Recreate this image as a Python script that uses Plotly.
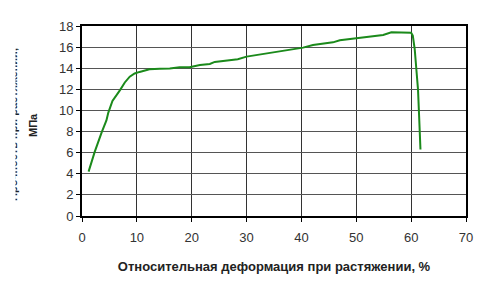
import plotly.graph_objects as go

strain = [1.2, 2.3, 3.6, 4.45, 4.8, 5.55, 6.9, 7.8, 8.7, 9.6, 10.5, 12.3, 14.2, 16.0,
          17.8, 19.6, 21.5, 23.3, 24.2, 26.3, 28.4, 30.0, 32.4, 33.6, 35.4, 40.3, 42.1,
          45.75, 47.0, 50.6, 54.9, 56.4, 60.0, 60.3, 60.65, 60.95, 61.25, 61.45, 61.7]
stress = [4.2, 6.05, 7.95, 9.05, 9.8, 10.9, 11.9, 12.65, 13.2, 13.5, 13.65, 13.9, 13.95, 13.98,
          14.1, 14.1, 14.3, 14.4, 14.6, 14.75, 14.85, 15.1, 15.3, 15.4, 15.6, 15.95, 16.2,
          16.45, 16.65, 16.9, 17.15, 17.4, 17.35, 17.1, 15.8, 13.9, 12.0, 9.5, 6.3]

x_ticks = [0, 10, 20, 30, 40, 50, 60, 70]
y_ticks = [0, 2, 4, 6, 8, 10, 12, 14, 16, 18]

x_title = "Относительная деформация при растяжении, %"
y_title_1 = "Прочность при растяжении,"
y_title_2 = "МПа"

font_family = "Liberation Sans, Arial, sans-serif"

fig = go.Figure()
fig.add_trace(go.Scatter(x=strain, y=stress, mode="lines",
                         line=dict(color="#1b8a1b", width=2), showlegend=False,
                         hoverinfo="skip"))

fig.update_layout(
    width=491, height=286,
    margin=dict(l=82, r=25, t=26, b=70),
    paper_bgcolor="white", plot_bgcolor="white",
    font=dict(family=font_family, size=13, color="#333333"),
    xaxis=dict(range=[0, 70], tickvals=x_ticks, showgrid=True, gridcolor="#333333",
               gridwidth=1, showline=True, linecolor="black", linewidth=2, mirror=True,
               ticks="outside", ticklen=4, tickcolor="black", zeroline=False,
               ticklabelstandoff=4,
               tickfont=dict(size=13, color="#333333"),
               title=dict(text="<b>" + x_title + "</b>", font=dict(size=13, color="#222222"),
                          standoff=18)),
    yaxis=dict(range=[0, 18], tickvals=y_ticks, showgrid=True, gridcolor="#555555",
               gridwidth=1, showline=True, linecolor="black", linewidth=2, mirror=True,
               ticks="outside", ticklen=4, tickcolor="black", zeroline=False,
               tickfont=dict(size=13, color="#333333")),
)

# y-axis title, two lines; the first line is clipped at the left edge in the reference
fig.add_annotation(text="<b>" + y_title_1 + "</b>", textangle=-90, xref="paper", yref="paper",
                   x=0, xshift=-82 + 13, y=0.5, yshift=-4, xanchor="center", yanchor="middle",
                   showarrow=False, font=dict(size=11, color="#222222"))
fig.add_annotation(text="", xref="paper", yref="paper", x=0, xshift=-82 + 7.5, y=0.5,
                   xanchor="center", yanchor="middle", borderpad=0,
                   width=15, height=200, bgcolor="white", showarrow=False)
fig.add_annotation(text="<b>" + y_title_2 + "</b>", textangle=-90, xref="paper", yref="paper",
                   x=0, xshift=-82 + 33, y=0.5, yshift=-4, xanchor="center", yanchor="middle",
                   showarrow=False, font=dict(size=11, color="#222222"))

fig.write_html("out.html")
